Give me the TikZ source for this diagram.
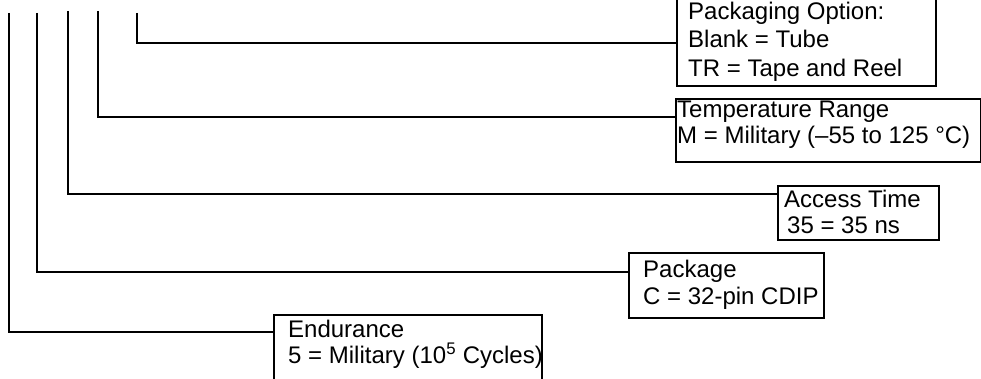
\documentclass[tikz,border=0pt]{standalone}
\usepackage{fontspec}
\setmainfont{Liberation Sans}

\begin{document}
\begin{tikzpicture}[x=1pt, y=-1pt,
                    box/.style={draw, line width=2pt, anchor=north west, inner sep=0pt},
                    txt/.style={anchor=north west, inner sep=0pt, align=left,
                                font=\fontsize{24}{26.5}\selectfont},
                    lead/.style={line width=2.5pt}]

  \useasboundingbox (0,0) rectangle (981,379);
  \clip (0,0) rectangle (981,379);

  % Boxes for each field of the part number
  \node [box, minimum width=259, minimum height=92] (box pack)      at (676,-7)  {};
  \node [box, minimum width=305, minimum height=63] (box temp)      at (675,98)  {};
  \node [box, minimum width=161, minimum height=54] (box access)    at (777,185) {};
  \node [box, minimum width=195, minimum height=65] (box package)   at (628,252) {};
  \node [box, minimum width=268, minimum height=90] (box endurance) at (273,314) {};

  % Texts inside the boxes
  \node [txt, font=\fontsize{24}{28.5}\selectfont] (text pack) at (688,1.5)
        {Packaging Option:\\Blank = Tube\\TR = Tape and Reel};
  \node [txt] (text temp) at (677,100.5)
        {Temperature Range\\M = Military (--55 to 125 °C)};
  \node [txt] (text access) at (784,189.5)
        {Access Time\\\hspace{3pt}35 = 35 ns};
  \node [txt, font=\fontsize{24}{27.5}\selectfont] (text package) at (643,259.5)
        {Package\\C = 32-pin CDIP};
  \node [txt] (text endurance) at (288,319.5)
        {Endurance\\5 = Military (10\textsuperscript{5} Cycles)};

  % Leads from the part number down to the boxes
  \foreach \field/\x/\top/\tap in {endurance/9/13/332, package/37/13/272,
                                   access/68/11/194, temp/98/11/117, pack/137/13/43} {
    \coordinate (lead \field) at (\x,\top);
    \coordinate (tap \field) at (\x,\tap);
    \draw [lead] (lead \field) -- (tap \field) -- (tap \field -| box \field.west);
  }

\end{tikzpicture}
\end{document}
